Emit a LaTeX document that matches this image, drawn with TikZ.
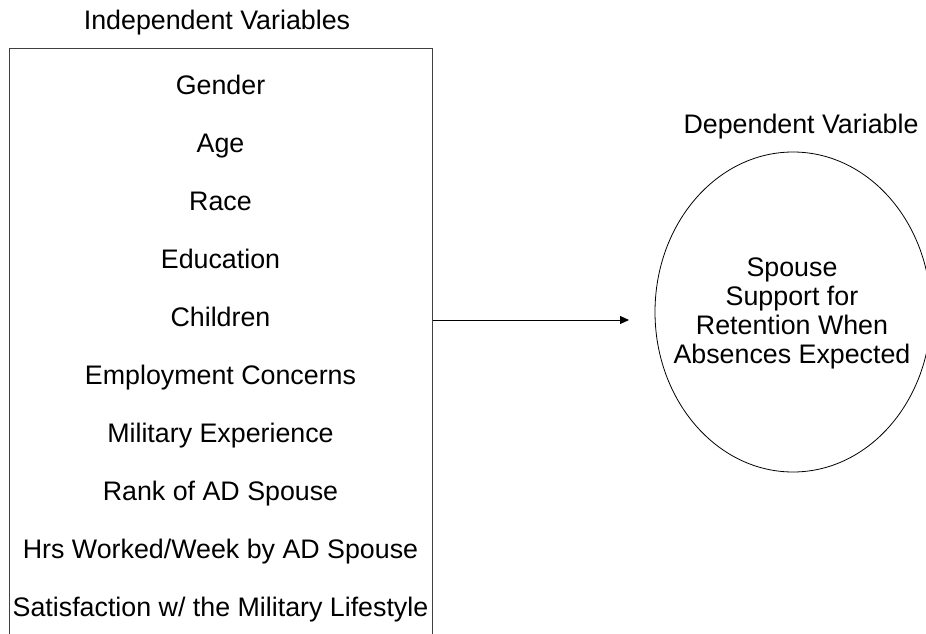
\documentclass[tikz,border=0pt]{standalone}
\usepackage{fontspec}
\setmainfont{Liberation Sans}
\usetikzlibrary{shapes.geometric,arrows.meta}
\begin{document}
\begin{tikzpicture}[x=1pt,y=1pt,
  txt/.style={font=\fontsize{26.8}{29}\selectfont, inner sep=0pt},
  item/.style={txt, anchor=base},
  heading/.style={txt, anchor=base},
  varbox/.style={draw=black!75, line width=1.1pt, inner sep=0pt},
  outcome/.style={ellipse, draw, line width=0.8pt, inner sep=0pt},
  link/.style={line width=0.8pt, -{Triangle[length=9pt,width=8pt]}}]
\useasboundingbox (0,0) rectangle (926,-634);

% headings
\node[heading] (ivhead) at (217,-30) {Independent Variables};
\node[heading] (dvhead) at (801,-133) {Dependent Variable};

% box of independent variables, running past the lower edge
\node[varbox, minimum width=423, minimum height=620, anchor=north west] (ivbox) at (9,-48) {};

\foreach \t [count=\i] in {Gender, Age, Race, Education, Children,
    Employment Concerns, Military Experience, Rank of AD Spouse,
    Hrs Worked/Week by AD Spouse, Satisfaction w/ the Military Lifestyle}
  \node[item] (iv\i) at (220.5, {-94-58*(\i-1)}) {\t};

% dependent variable, its right side running past the edge
\node[outcome, minimum width=276, minimum height=320] (dv) at (793,-312) {};
\node[txt, align=center] (dvtext) at (792,-313)
  {Spouse\\Support for\\Retention When\\Absences Expected};

% connector
\coordinate (tip) at (629,-320);
\draw[link] (ivbox.east |- tip) -- (tip);
\end{tikzpicture}
\end{document}
